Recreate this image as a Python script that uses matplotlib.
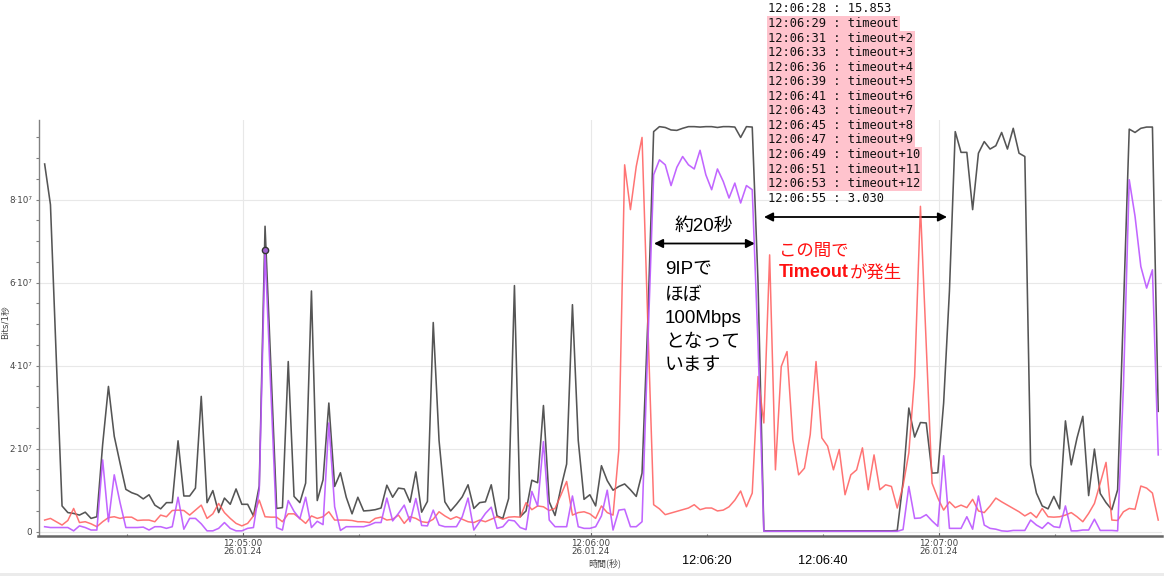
import numpy as np
import matplotlib
matplotlib.use("Agg")
import matplotlib.pyplot as plt
import matplotlib.dates as mdates
from matplotlib.patches import Rectangle
from matplotlib.ticker import FixedLocator, FixedFormatter, MultipleLocator

# ---------------- data (Mbit/s, one sample per second) ----------------
start_time = np.datetime64("2024-01-26T12:04:25.800")
black_mbps = [
    88.6, 78.8, 42, 6.2, 4.6, 4.4, 4.0, 4.7, 3.2, 3.6,
    21, 35, 23, 16.5, 10.2, 9.4, 8.9, 7.9, 8.9, 6.4,
    5.5, 7.0, 7.0, 21.9, 8.6, 8.6, 10.5, 32.6, 7.0, 9.9,
    4.6, 8.1, 6.6, 10.3, 6.6, 6.6, 3.8, 11.0, 73.6, 40,
    5.6, 5.8, 41, 8.5, 7.0, 11.7, 58, 7.5, 12.5, 31,
    10.9, 14.2, 8.3, 4.3, 8.3, 5.0, 5.1, 5.3, 5.7, 11.2,
    8.3, 10.5, 10.3, 7.1, 14.4, 4.7, 7.3, 50.4, 22, 7.2,
    5.0, 6.6, 8.4, 11.3, 5.6, 7.0, 7.2, 11.3, 3.8, 3.2,
    8.0, 59.3, 3.6, 5.0, 12.4, 11.8, 30.4, 7.2, 3.9, 10.5,
    16.3, 54.7, 22, 7.8, 8.9, 6.2, 15.9, 12.3, 10.0, 10.9,
    11.5, 10.1, 8.5, 14.1, 51, 96.4, 97.6, 97.4, 96.8, 96.7,
    97.2, 97.6, 97.6, 97.5, 97.6, 97.6, 97.4, 97.6, 97.6, 97.5,
    95.0, 97.6, 97.5, 60, 0.2, 0.2, 0.2, 0.2, 0.2, 0.2,
    0.2, 0.2, 0.2, 0.2, 0.2, 0.2, 0.2, 0.2, 0.2, 0.2,
    0.2, 0.2, 0.2, 0.2, 0.2, 0.2, 0.2, 0.3, 12, 29.8,
    22.8, 26.3, 26.2, 14.1, 14.2, 31, 58, 96.4, 91.4, 91.4,
    77.6, 91.2, 94.0, 92.2, 93.0, 96.2, 92.2, 97.2, 91.2, 90.4,
    16.1, 9.3, 6.2, 5.5, 8.5, 5.5, 26.7, 16.1, 22.6, 27.8,
    8.7, 19.9, 9.2, 7.0, 5.3, 10.1, 53.5, 97.0, 96.2, 97.2,
    97.5, 97.5, 29.0,
]
purple_mbps = [
    1.2, 1.0, 1.0, 1.0, 1.0, 0.2, 1.4, 1.0, 0.4, 0.4,
    17.3, 2.4, 13.7, 7.0, 1.0, 1.0, 1.0, 1.1, 0.4, 1.2,
    1.2, 0.8, 1.2, 8.3, 0.6, 3.2, 3.2, 1.9, 0.2, 0.2,
    0.8, 2.2, 0.8, 0.2, 0.2, 0.8, 1.0, 10.0, 67.8, 34,
    1.0, 0.4, 7.5, 4.9, 3.1, 8.3, 1.0, 2.5, 1.7, 26.2,
    6.0, 0.3, 1.2, 1.2, 1.2, 1.2, 1.6, 2.2, 2.2, 8.1,
    2.6, 4.4, 6.4, 2.4, 8.0, 1.5, 1.4, 5.2, 1.6, 1.2,
    1.2, 1.2, 3.6, 8.1, 0.4, 2.4, 4.4, 5.9, 0.8, 1.2,
    2.8, 2.6, 1.0, 0.5, 9.7, 6.2, 21.7, 2.8, 1.2, 1.2,
    1.2, 8.6, 1.2, 0.8, 0.8, 1.2, 3.8, 10.0, 0.4, 5.2,
    5.4, 1.2, 1.2, 2.4, 45, 86, 89.6, 88.4, 83.4, 87.8,
    90.4, 88.4, 87.4, 91.9, 86, 82.4, 87.4, 84.4, 80.4, 84,
    79.2, 83.4, 82.4, 45, 0.1, 0.1, 0.1, 0.1, 0.1, 0.1,
    0.1, 0.1, 0.1, 0.1, 0.1, 0.1, 0.1, 0.1, 0.1, 0.1,
    0.1, 0.1, 0.1, 0.1, 0.1, 0.1, 0.1, 0.1, 0.5, 10.9,
    3.2, 3.3, 4.1, 2.6, 1.3, 18.3, 0.8, 0.8, 0.8, 3.6,
    0.6, 8.6, 1.6, 0.8, 0.6, 0.2, 0.1, 0.3, 0.3, 0.3,
    2.8, 1.6, 0.8, 2.2, 1.2, 1.0, 6.2, 0.2, 0.2, 0.4,
    0.4, 3.0, 0.3, 0.3, 0.3, 0.2, 35, 84.8, 76, 63.9,
    58.7, 63.1, 18.5,
]
red_mbps = [
    2.8, 3.2, 2.4, 1.6, 2.7, 5.6, 2.2, 2.4, 1.9, 1.2,
    2.4, 3.4, 3.6, 3.2, 3.5, 3.5, 2.7, 2.8, 2.8, 2.4,
    4.0, 3.6, 5.1, 5.2, 5.1, 4.0, 5.2, 6.4, 3.2, 4.3,
    6.8, 4.6, 3.2, 2.0, 1.4, 2.0, 3.8, 7.6, 3.6, 3.5,
    3.5, 2.4, 4.3, 4.3, 3.2, 2.0, 3.8, 3.2, 3.6, 4.8,
    2.8, 2.8, 2.8, 2.7, 2.4, 2.4, 2.2, 3.2, 3.5, 2.8,
    3.0, 4.0, 2.0, 3.6, 3.2, 2.4, 2.2, 3.0, 4.8, 3.8,
    3.0, 3.6, 3.0, 2.4, 2.2, 2.8, 2.4, 3.0, 3.6, 3.0,
    3.5, 3.6, 3.5, 7.0, 5.3, 6.2, 6.0, 5.1, 5.6, 8.8,
    12.1, 4.0, 4.6, 4.8, 4.3, 3.2, 6.2, 4.6, 4.0, 19.7,
    88.4, 77.6, 88.0, 95.0, 50, 6.5, 5.5, 4.1, 4.5, 4.9,
    5.3, 5.7, 6.5, 5.3, 5.7, 5.7, 5.0, 5.2, 6.0, 7.6,
    9.8, 6.0, 9.3, 37.4, 26.2, 66.7, 14.9, 39.8, 43.4, 22.2,
    13.7, 15.3, 23.4, 41, 22.6, 20.6, 14.9, 19.8, 8.9, 13.7,
    14.9, 20.2, 10.1, 18.5, 10.1, 11.3, 10.9, 5.7, 11, 19,
    37.4, 78.4, 45, 11.7, 8.1, 5.2, 7.2, 5.8, 6.4, 5.8,
    7.8, 5.0, 4.6, 6.2, 8.1, 7.2, 6.4, 5.6, 4.8, 3.8,
    4.6, 3.4, 5.6, 3.6, 3.5, 3.6, 4.0, 4.6, 3.6, 2.4,
    4.4, 6.8, 11.7, 16.7, 2.8, 2.7, 4.8, 5.6, 5.4, 11.0,
    10.5, 9.3, 2.8,
]
highlight_index = 38

ytick_values = [0, 2e7, 4e7, 6e7, 8e7]
ytick_labels = ["0", "2·10⁷", "4·10⁷", "6·10⁷", "8·10⁷"]

log_lines = [
    ("12:06:28 : 15.853", False),
    ("12:06:29 : timeout", True),
    ("12:06:31 : timeout+2", True),
    ("12:06:33 : timeout+3", True),
    ("12:06:36 : timeout+4", True),
    ("12:06:39 : timeout+5", True),
    ("12:06:41 : timeout+6", True),
    ("12:06:43 : timeout+7", True),
    ("12:06:45 : timeout+8", True),
    ("12:06:47 : timeout+9", True),
    ("12:06:49 : timeout+10", True),
    ("12:06:51 : timeout+11", True),
    ("12:06:53 : timeout+12", True),
    ("12:06:55 : 3.030", False),
]
note_lines = ["9IPで", "ほぼ", "100Mbps", "となって", "います"]
bottom_time_labels = ["12:06:20", "12:06:40"]

# ---------------- figure ----------------
W, H = 1164, 576
fig = plt.figure(figsize=(W / 100, H / 100), dpi=100)
fig.patch.set_facecolor("white")

def fx(px):
    return px / W

def fy(py):
    return 1 - py / H

ax = fig.add_axes([fx(38.5), fy(536), fx(1162) - fx(38.5), fy(120) - fy(536)])

n = len(black_mbps)
times = start_time + np.arange(n) * np.timedelta64(1000, "ms")
black = np.array(black_mbps) * 1e6
purple = np.array(purple_mbps) * 1e6
red = np.array(red_mbps) * 1e6

ax.plot(times, black, color="#555555", lw=1.15, zorder=3)
ax.plot(times, red, color="#ff5c5c", lw=1.1, alpha=0.85, zorder=4)
ax.plot(times, purple, color="#bb55ff", lw=1.15, alpha=0.9, zorder=5)
ax.plot(times[highlight_index], purple[highlight_index], "o", ms=4.5,
        mfc="#a060d0", mec="#333333", mew=1.0, zorder=6)

ax.set_xlim(np.datetime64("2024-01-26T12:04:24.740"),
            np.datetime64("2024-01-26T12:07:38.450"))
ax.set_ylim(-1.04e6, 99.2e6)

# spines
for s in ["top", "right"]:
    ax.spines[s].set_visible(False)
ax.spines["left"].set_color("#808080")
ax.spines["left"].set_linewidth(1.0)
ax.spines["bottom"].set_color("#666666")
ax.spines["bottom"].set_linewidth(1.8)

# y axis
ax.yaxis.set_major_locator(FixedLocator(ytick_values))
ax.yaxis.set_major_formatter(FixedFormatter(ytick_labels))
ax.yaxis.set_minor_locator(MultipleLocator(5e6))
ax.tick_params(axis="y", which="both", direction="out", length=2.5,
               width=0.8, color="#808080", labelsize=6.3, labelcolor="#444444", pad=2)

# x axis
ax.xaxis.set_major_locator(mdates.MinuteLocator())
ax.xaxis.set_major_formatter(mdates.DateFormatter("%H:%M:%S\n%d.%m.%y"))
ax.xaxis.set_minor_locator(mdates.SecondLocator(bysecond=[20, 40]))
ax.tick_params(axis="x", which="major", direction="in", length=3, width=0.8,
               color="#666666", labelsize=6.3, labelcolor="#444444", pad=2)
ax.tick_params(axis="x", which="minor", direction="in", length=1.5, width=0.8,
               color="#666666")
for lbl in ax.get_xticklabels():
    lbl.set_linespacing(0.95)

ax.grid(True, which="major", color="#e8e8e8", lw=0.8, zorder=0)
ax.set_axisbelow(True)

# axis titles
cjk = ["DejaVu Sans", "Noto Sans CJK JP"]
fig.text(fx(6), fy(322), "Bits/1秒", rotation=90, ha="center", va="center",
         fontsize=6.3, color="#444444", family=cjk)
fig.text(fx(605), fy(563), "時間(秒)", ha="center", va="center",
         fontsize=6.5, color="#444444", family=["Noto Sans CJK JP", "DejaVu Sans"])

# bottom time annotations under minor ticks
for lbl in bottom_time_labels:
    tx = np.datetime64("2024-01-26T" + lbl)
    ax.annotate(lbl, xy=(mdates.date2num(tx), 0), xycoords=("data", "axes fraction"),
                xytext=(0, -24.5), textcoords="offset pixels",
                ha="center", va="center", fontsize=9.2, color="black",
                family="Liberation Sans")

# log box (monospace with pink highlight)
char_w = 7.33
line_h = 14.55
y_first = 9.0
for i, (txt, hl) in enumerate(log_lines):
    yc = y_first + i * line_h
    if hl:
        rect = Rectangle((fx(766.5), fy(yc + line_h / 2)), fx(len(txt) * char_w + 2.0),
                         line_h / H, transform=fig.transFigure,
                         facecolor="#ffc3cd", edgecolor="none", zorder=1)
        fig.add_artist(rect)
    fig.text(fx(767.5), fy(yc), txt, ha="left", va="center", fontsize=8.75,
             family="DejaVu Sans Mono", color="#111111", zorder=2)

# annotations inside plot
jp = ["Liberation Sans", "Noto Sans CJK JP"]
fig.text(fx(704), fy(226), "約20秒", ha="center", va="center", fontsize=13.5,
         family=jp, color="black")
ax.annotate("", xy=(654, H - 243.5), xycoords="figure pixels",
            xytext=(755, H - 243.5), textcoords="figure pixels",
            arrowprops=dict(arrowstyle="<|-|>", color="black", lw=1.3,
                            mutation_scale=13, shrinkA=0, shrinkB=0))
ax.annotate("", xy=(764, H - 217), xycoords="figure pixels",
            xytext=(947, H - 217), textcoords="figure pixels",
            arrowprops=dict(arrowstyle="<|-|>", color="black", lw=1.3,
                            mutation_scale=13, shrinkA=0, shrinkB=0))

note_y = [270, 295, 318.5, 342, 365]
for txt, yy in zip(note_lines, note_y):
    fig.text(fx(665), fy(yy), txt, ha="left", va="center", fontsize=13.5,
             family=jp, color="black")

fig.text(fx(779), fy(251), "この間で", ha="left", va="center", fontsize=12.5,
         family=jp, color="#ff1010")
fig.text(fx(779), fy(272.5), "Timeout", ha="left", va="center", fontsize=13,
         family="Liberation Sans", weight="bold", color="#ff1010")
fig.text(fx(850), fy(272.5), "が発生", ha="left", va="center", fontsize=12.5,
         family=jp, color="#ff1010")

# faint page edge at the very bottom
fig.add_artist(Rectangle((0, 0), 1, 3.5 / H, transform=fig.transFigure,
                         facecolor="#ebebeb", edgecolor="none"))

fig.savefig("out.png", dpi=100, facecolor="white")
